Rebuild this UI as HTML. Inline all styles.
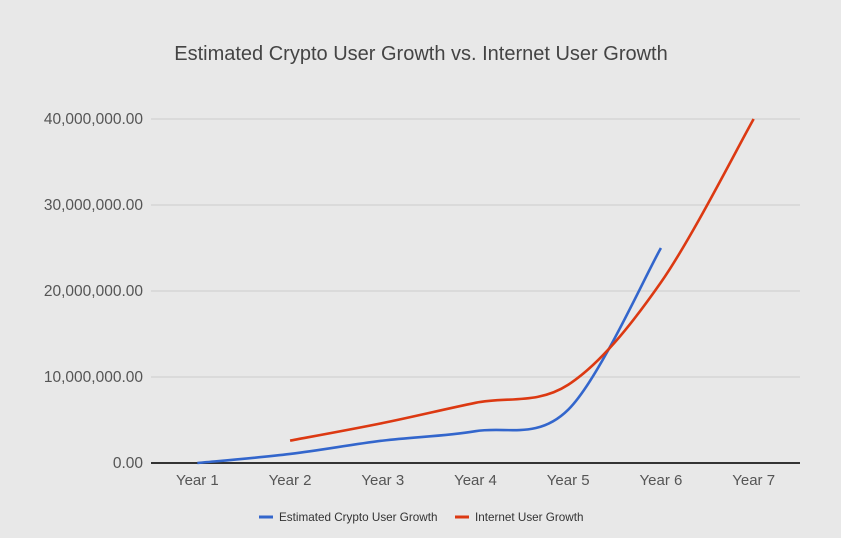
<!DOCTYPE html>
<html><head><meta charset="utf-8"><style>
body{margin:0;background:#e8e8e8;font-family:"Liberation Sans",Arial,sans-serif}
svg{display:block}
</style></head><body>
<svg id="chart" width="841" height="538">
<rect width="841" height="538" fill="#e8e8e8"/>
<text x="421" y="60" text-anchor="middle" font-size="20" fill="#444">Estimated Crypto User Growth vs. Internet User Growth</text>
<g id="grid"></g><g id="series"></g>
<g>
<line x1="259" y1="517" x2="273" y2="517" stroke="#3366cc" stroke-width="3"/>
<text x="279" y="521" font-size="11.7" fill="#333">Estimated Crypto User Growth</text>
<line x1="455" y1="517" x2="469" y2="517" stroke="#dc3912" stroke-width="3"/>
<text x="475" y="521" font-size="11.7" fill="#333">Internet User Growth</text>
</g>
</svg>
<script>
const categories=["Year 1","Year 2","Year 3","Year 4","Year 5","Year 6","Year 7"];
const cryptoValues=[0,1050000,2600000,3700000,6200000,25000000,null];
const internetValues=[null,2600000,4650000,7000000,9100000,21000000,40000000];
const yTicks=[0,10000000,20000000,30000000,40000000];
const yTickLabels=["0.00","10,000,000.00","20,000,000.00","30,000,000.00","40,000,000.00"];
const NS="http://www.w3.org/2000/svg";
const x0=151,x1=800,yb=463,yt=119,ymax=40000000;
const bw=(x1-x0)/categories.length;
const xs=i=>x0+bw*(i+0.5);
const ys=v=>yb-(v/ymax)*(yb-yt);
const grid=document.getElementById('grid'),ser=document.getElementById('series');
function mk(t,a,p){const e=document.createElementNS(NS,t);for(const k in a)e.setAttribute(k,a[k]);p.appendChild(e);return e;}
yTicks.forEach((v,i)=>{
 const l=mk('line',{x1:x0,x2:x1,y1:ys(v),y2:ys(v),stroke:v===0?'#333':'#ccc','stroke-width':v===0?2:1},grid);
 
 
 const t=mk('text',{x:143,y:ys(v)+5,'text-anchor':'end','font-size':15.5,fill:'#555'},grid);
 t.textContent=yTickLabels[i];
 
 
});
categories.forEach((c,i)=>{
 const t=mk('text',{x:xs(i),y:485,'text-anchor':'middle','font-size':15,fill:'#555'},grid);
 t.textContent=c;
 
 
});
function path(vals){
 const p=[];vals.forEach((v,i)=>{if(v!==null)p.push([xs(i),ys(v)]);});
 let d='M'+p[0][0]+','+p[0][1];
 for(let i=0;i<p.length-1;i++){
  const a=p[i-1]||p[i],b=p[i],c=p[i+1],e=p[i+2]||c,k=6;
  d+=' C'+(b[0]+(c[0]-a[0])/k)+','+(b[1]+(c[1]-a[1])/k)+' '+(c[0]-(e[0]-b[0])/k)+','+(c[1]-(e[1]-b[1])/k)+' '+c[0]+','+c[1];
 }
 return d;
}
const lc=mk('path',{d:path(cryptoValues),fill:'none',stroke:'#3366cc','stroke-width':2.6},ser);


const li=mk('path',{d:path(internetValues),fill:'none',stroke:'#dc3912','stroke-width':2.6},ser);


</script>
</body></html>
